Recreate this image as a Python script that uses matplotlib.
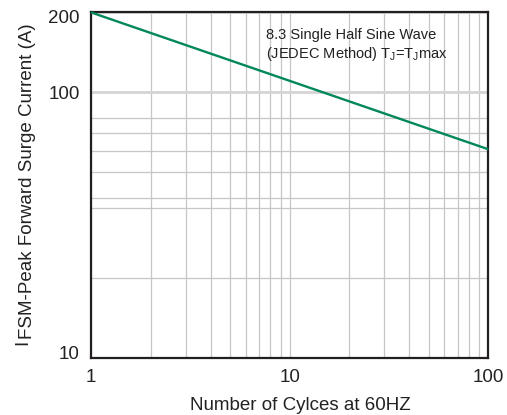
import matplotlib
matplotlib.use("Agg")
import matplotlib.pyplot as plt
from matplotlib.ticker import FixedLocator, NullFormatter, FixedFormatter
from matplotlib.transforms import ScaledTranslation

plt.rcParams['font.family'] = ['Liberation Sans', 'DejaVu Sans']
plt.rcParams['mathtext.fontset'] = 'custom'
plt.rcParams['mathtext.rm'] = 'Liberation Sans'

# Data
cycles = [1, 100]
surge_current = [200, 61]
x_major = [1, 10, 100]
x_major_labels = ["1", "10", "100"]
x_minor = [2, 3, 4, 5, 6, 7, 8, 9, 20, 30, 40, 50, 60, 70, 80, 90]
y_major = [10, 100, 200]
y_major_labels = ["10", "100", "200"]
y_minor = [20, 36.6, 40, 50, 60, 70, 80]

W, H = 507, 415
fig = plt.figure(figsize=(W / 100, H / 100), dpi=100)
left, right, top, bottom = 91, 488.3, 12.4, 357.7
ax = fig.add_axes([left / W, (H - bottom) / H, (right - left) / W, (bottom - top) / H])

ax.set_xscale('log')
ax.set_yscale('log')
ax.set_xlim(1, 100)
ax.set_ylim(10, 200)

grid_c = '#c6c6c6'
ax.xaxis.set_major_locator(FixedLocator(x_major))
ax.xaxis.set_major_formatter(FixedFormatter(x_major_labels))
ax.xaxis.set_minor_locator(FixedLocator(x_minor))
ax.xaxis.set_minor_formatter(NullFormatter())
ax.yaxis.set_major_locator(FixedLocator(y_major))
ax.yaxis.set_major_formatter(FixedFormatter(y_major_labels))
ax.yaxis.set_minor_locator(FixedLocator(y_minor))
ax.yaxis.set_minor_formatter(NullFormatter())

ax.grid(True, which='major', axis='x', color=grid_c, linewidth=0.9)
ax.grid(True, which='minor', axis='x', color=grid_c, linewidth=0.9)
ax.grid(True, which='major', axis='y', color='#d4d4d4', linewidth=2.0)
ax.grid(True, which='minor', axis='y', color=grid_c, linewidth=0.9)
ax.set_axisbelow(True)

ax.tick_params(which='both', length=0)
ax.tick_params(axis='y', which='major', pad=8, labelsize=13.5, labelcolor='#222222')
ax.tick_params(axis='x', which='major', pad=8, labelsize=13.5, labelcolor='#222222')

for s in ax.spines.values():
    s.set_linewidth(1.6)
    s.set_color('#231f20')

ax.plot(cycles, surge_current, color='#00875a', linewidth=1.7, solid_capstyle='butt',
        clip_on=False, zorder=3)

ax.set_xlabel("Number of Cylces at 60HZ", fontsize=13.5, color='#222222', va='baseline')
ax.xaxis.set_label_coords((300.2 - left) / (right - left), (bottom - 410) / (bottom - top))

# Y label: "I" followed by lowered text
fig.text(27 / W, 70.5 / H, "I", rotation=90, rotation_mode='anchor', ha='left', va='baseline',
         fontsize=13.5, color='#222222')
fig.text(32 / W, 76.5 / H, "FSM-Peak Forward Surge Current (A)", rotation=90, rotation_mode='anchor',
         ha='left', va='baseline', fontsize=13.5, color='#222222')

ax.text((265.5 - left) / (right - left), (bottom - 39) / (bottom - top), "8.3 Single Half Sine Wave",
        transform=ax.transAxes, fontsize=10.5, color='#222222', ha='left', va='baseline')
ax.text((265.5 - left) / (right - left), (bottom - 58) / (bottom - top),
        r"(JEDEC Method) T$\mathregular{_J}$=T$\mathregular{_J}$max",
        transform=ax.transAxes, fontsize=10.5, color='#222222', ha='left', va='baseline')

# Nudge end labels inward as in the reference
fig.canvas.draw()
shifts = {"200": -4, "10": 5}
for lab in ax.get_yticklabels():
    t = lab.get_text()
    if t in shifts:
        lab.set_transform(lab.get_transform() + ScaledTranslation(0, shifts[t] / 100, fig.dpi_scale_trans))

fig.savefig("out.png", dpi=100)
